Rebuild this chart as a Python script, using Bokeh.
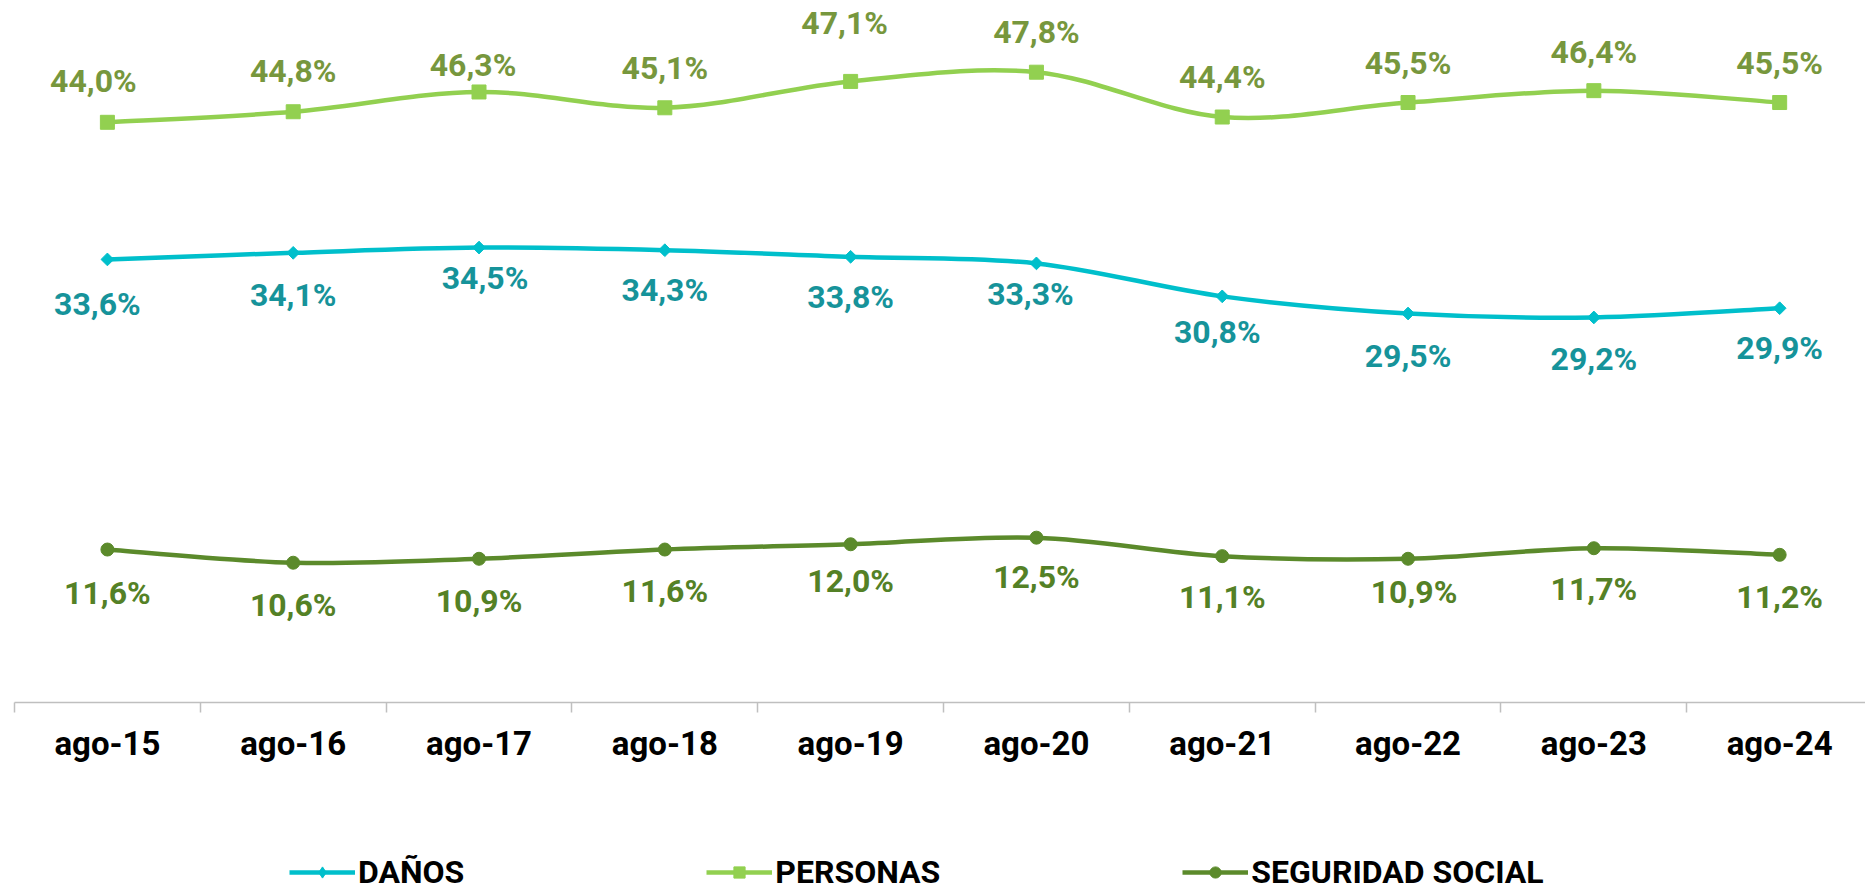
from bokeh.plotting import figure
from bokeh.layouts import column
from bokeh.models import (ColumnDataSource, Range1d, FixedTicker, Legend, LegendItem)
from bokeh.core.properties import value
from bokeh.embed import file_html
from bokeh.resources import INLINE

# ---------------- data ----------------
categories = ["ago-15", "ago-16", "ago-17", "ago-18", "ago-19",
              "ago-20", "ago-21", "ago-22", "ago-23", "ago-24"]
danos = [33.6, 34.1, 34.5, 34.3, 33.8, 33.3, 30.8, 29.5, 29.2, 29.9]
personas = [44.0, 44.8, 46.3, 45.1, 47.1, 47.8, 44.4, 45.5, 46.4, 45.5]
seguridad = [11.6, 10.6, 10.9, 11.6, 12.0, 12.5, 11.1, 10.9, 11.7, 11.2]
series_names = ["DAÑOS", "PERSONAS", "SEGURIDAD SOCIAL"]

# label placement (screen px): dx right, dy up
personas_dx = [-14, 0, -6, 0, -6, 0, 0, 0, 0, 0]
personas_dy = [41, 41, 27, 40, 58, 40, 40, 40, 39, 40]
danos_dx = [-10, 0, 6, 0, 0, -6, -5, 0, 0, 0]
danos_dy = [-45, -42, -30, -40, -40, -31, -36, -42, -42, -40]
seg_dx = [0, 0, 0, 0, 0, 0, 0, 6, 0, 0]
seg_dy = [-43, -42, -42, -41, -37, -39, -41, -33, -41, -42]

C_DANOS, C_DANOS_LBL = "#00BFCB", "#16939A"
C_PERS, C_PERS_LBL = "#92D050", "#77973D"
C_SEG, C_SEG_LBL = "#5B8A2B", "#548126"

FONT = "Roboto"

x = list(range(len(categories)))

TOP_H = 800
p = figure(width=1865, height=TOP_H, output_backend="svg", toolbar_location=None,
           x_range=Range1d(-0.5, 9.462), y_range=Range1d(0, 52.63),
           y_axis_location=None, min_border_left=14, min_border_right=0,
           min_border_top=8, min_border_bottom=TOP_H - 8 - 694)
p.outline_line_color = None
p.grid.visible = False
p.background_fill_color = "white"
p.border_fill_color = "white"

xa = p.xaxis[0]
xa.ticker = FixedTicker(ticks=x, minor_ticks=[i - 0.5 for i in x])
xa.major_label_overrides = {i: c for i, c in zip(x, categories)}
xa.major_tick_line_color = None
xa.major_tick_out = 0
xa.major_tick_in = 0
xa.minor_tick_line_color = "#BFBFBF"
xa.minor_tick_line_width = 1.5
xa.minor_tick_out = 10
xa.minor_tick_in = 0
xa.axis_line_color = "#BFBFBF"
xa.axis_line_width = 1.5
xa.major_label_standoff = 11
xa.major_label_text_font = FONT
xa.major_label_text_font_style = "bold"
xa.major_label_text_font_size = "33px"
xa.major_label_text_color = "black"


def smooth(ys):
    n = len(ys)
    P = [(float(i), float(v)) for i, v in zip(x, ys)]
    d = dict(x0=[], y0=[], x1=[], y1=[], cx0=[], cy0=[], cx1=[], cy1=[])
    for i in range(n - 1):
        p0 = P[max(i - 1, 0)]
        p1 = P[i]
        p2 = P[i + 1]
        p3 = P[min(i + 2, n - 1)]
        d["x0"].append(p1[0]); d["y0"].append(p1[1])
        d["x1"].append(p2[0]); d["y1"].append(p2[1])
        d["cx0"].append(p1[0] + (p2[0] - p0[0]) / 6)
        d["cy0"].append(p1[1] + (p2[1] - p0[1]) / 6)
        d["cx1"].append(p2[0] - (p3[0] - p1[0]) / 6)
        d["cy1"].append(p2[1] - (p3[1] - p1[1]) / 6)
    return ColumnDataSource(d)


def fmt(v):
    return f"{v:.1f}%".replace(".", ",")


series = [
    (danos, C_DANOS, C_DANOS_LBL, "square", 9, 0.785398, danos_dx, danos_dy),
    (personas, C_PERS, C_PERS_LBL, "square", 14, 0.0, personas_dx, personas_dy),
    (seguridad, C_SEG, C_SEG_LBL, "circle", 13, 0.0, seg_dx, seg_dy),
]
legend_markers = ["diamond", "square", "circle"]

for ys, col, lcol, marker, size, ang, dxs, dys in series:
    p.bezier(x0="x0", y0="y0", x1="x1", y1="y1", cx0="cx0", cy0="cy0",
             cx1="cx1", cy1="cy1", source=smooth(ys),
             line_color=col, line_width=4.5)
    src = ColumnDataSource(dict(x=x, y=ys, lbl=[fmt(v) for v in ys],
                                dx=dxs, dy=[-d for d in dys]))
    p.scatter("x", "y", source=src, marker=marker, size=size, angle=ang,
              fill_color=col, line_color=col)
    p.text("x", "y", text="lbl", source=src, x_offset="dx", y_offset="dy",
           text_font=value(FONT), text_font_style="bold", text_font_size="32px",
           text_color=lcol, text_align="center", text_baseline="middle")

# ---------------- legend strip ----------------
LEG_H = 891 - TOP_H
lg = figure(width=1865, height=LEG_H, output_backend="svg", toolbar_location=None,
            x_range=Range1d(0, 1), y_range=Range1d(0, 1),
            x_axis_location=None, y_axis_location=None,
            min_border_left=0, min_border_right=0, min_border_top=0,
            min_border_bottom=0)
lg.outline_line_color = None
lg.grid.visible = False

items = []
for name, lm, (ys, col, lcol, marker, size, ang, dxs, dys) in zip(series_names, legend_markers, series):
    # placeholder renderers (outside the visible range) that only feed the legend
    lr = lg.line(x=[-5, -4], y=[-5, -5], line_color=col, line_width=4.5)
    mr = lg.scatter(x=[-5], y=[-5], marker=lm, size=size,
                    fill_color=col, line_color=col)
    items.append(LegendItem(label=name, renderers=[lr, mr]))

legend = Legend(items=items, orientation="horizontal", location=(275, 0),
                spacing=242, glyph_width=66, glyph_height=28, label_standoff=3,
                padding=0, margin=0, border_line_color=None,
                background_fill_alpha=0,
                label_text_font=FONT, label_text_font_style="bold",
                label_text_font_size="32px", label_text_color="black")
lg.add_layout(legend, "center")

layout = column(p, lg, spacing=0)
open("out.html", "w").write(file_html(layout, INLINE))
